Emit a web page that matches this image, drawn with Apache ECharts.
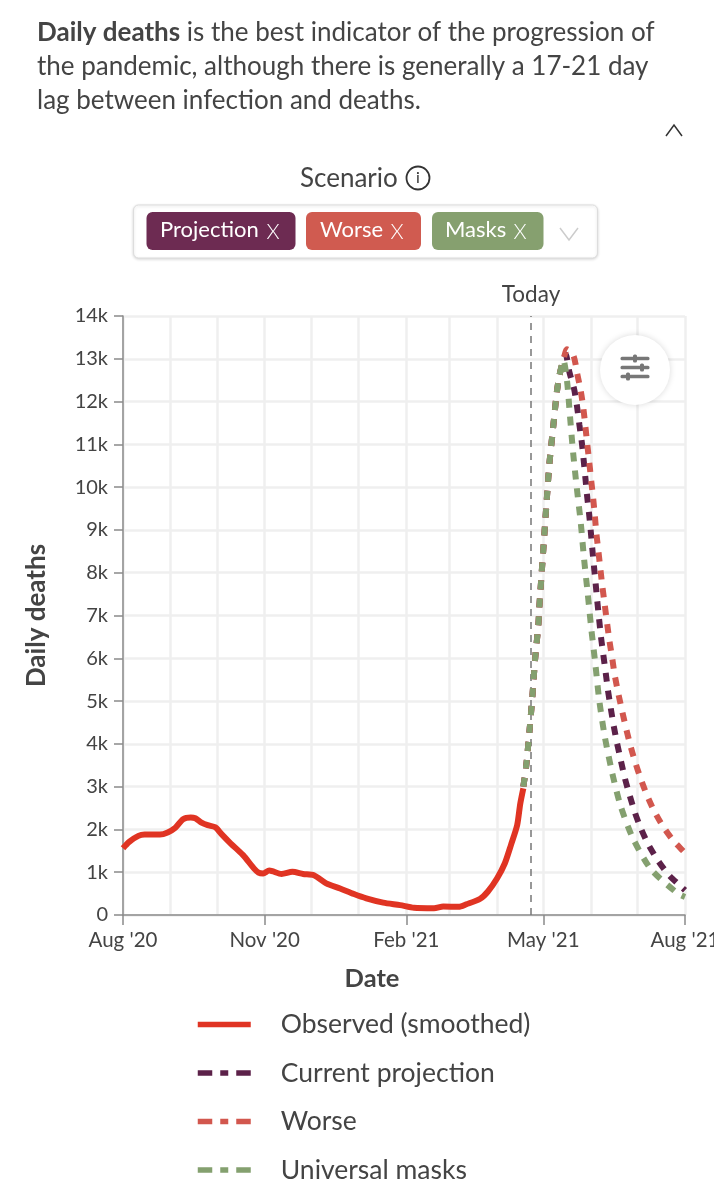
<!DOCTYPE html>
<html><head><meta charset="utf-8">
<style>html,body{margin:0;padding:0;background:#fff}#c{width:714px;height:1200px}</style>
<script src="https://cdn.jsdelivr.net/npm/echarts@6/dist/echarts.min.js"></script>
</head><body><div id="c"></div>
<script>
// x values: days since 1 Aug 2020; y values: daily deaths in thousands
const obsDays=[0,4,10,14,24,29,34,39,44,47,51,55,60,64,70,78,85,88,91,95,103,110,117,124,132,141,150,158,169,180,189,202,208,218,223,232,237,243,248,252,256,258,260];
const obsVals=[1.56,1.71,1.85,1.88,1.88,1.93,2.04,2.24,2.28,2.26,2.16,2.10,2.05,1.89,1.67,1.40,1.09,0.99,0.97,1.04,0.96,1.01,0.96,0.93,0.74,0.62,0.49,0.39,0.29,0.23,0.17,0.16,0.20,0.19,0.25,0.38,0.55,0.86,1.21,1.64,2.10,2.60,2.96];
const riseDays=[260,261.8,264,265.9,267.6,269.8,270.4,272,273.6,275.2,276.9,279.3,281.7,283.4,286];
const riseVals=[3.0,3.46,4.3,5.12,5.96,6.8,7.2,8.04,8.87,9.7,10.54,11.37,12.2,12.6,12.97];
const maskDays=[288.4,290.3,292.3,294.7,297.3,299.4,301.8,304.2,306.8,309.3,312.8,317.4,323,331.2,342.9,360,365];
const maskVals=[12.48,11.66,10.82,9.99,9.17,8.34,7.52,6.67,5.86,5.02,4.19,3.37,2.57,1.79,1.07,0.51,0.42];
const projDays=[287.5,289.9,293,294.9,296.4,298,299.2,300.3,301.4,302.7,303.8,304.8,305.9,307,308.1,310.5,312,313.5,315,316.8,318.7,320.9,323.4,326,329.1,332.5,336.6,341.6,347.5,354.6,362.6,365];
const projVals=[13.1,12.69,12.29,11.88,11.46,11.04,10.63,10.22,9.8,9.38,8.97,8.56,8.14,7.73,7.31,6.48,6.07,5.66,5.24,4.83,4.42,4.01,3.6,3.19,2.79,2.39,2.0,1.62,1.27,0.93,0.66,0.58];
const worseDays=[288.4,292.6,295,297.3,299,300.3,301.5,302.8,304,305.3,306.4,307.4,308.7,310,311.3,312.8,315.8,317.6,319.3,321.5,323.9,326.5,329.3,332.5,336.2,340.3,345,350.9,357.6,364.3,365];
const worseVals=[13.22,13.07,12.65,12.25,11.84,11.42,11.01,10.59,10.18,9.76,9.35,8.93,8.52,8.1,7.69,7.27,6.44,6.03,5.62,5.21,4.81,4.4,3.99,3.59,3.19,2.8,2.43,2.06,1.73,1.48,1.45];
const monthDays=[0,31,61,92,122,153,184,212,243,273,304,334,365];
const labelDays=[0,92,184,273,365];
const labelTexts=["Aug '20","Nov '20","Feb '21","May '21","Aug '21"];
const todayDay=265;
const seriesNames=['Observed (smoothed)','Current projection','Worse','Universal masks'];
const seriesColors=['#e03423','#5c2149','#d2574e','#84a06f'];
const chips=[['Projection','#6d2b52'],['Worse','#d05b50'],['Masks','#86a06f']];

const FONT='Lato';
const pairs=(xs,ys)=>xs.map((x,i)=>[x,ys[i]*1000]);
const rise=pairs(riseDays,riseVals);
const txt=(x,y,text,size,extra)=>({type:'text',x,y,silent:true,style:Object.assign({text,fontFamily:FONT,fontSize:size,fill:'#444',textVerticalAlign:'middle'},extra||{})});
const chipBoxes=[[146.5,149],[306,115],[432,111.5]];
const chipX=[[160,273],[320,397],[445,520]];

const graphics=[
 {type:'text',x:37,y:33,style:{text:'{b|Daily deaths} is the best indicator of the progression of',rich:{b:{fontFamily:FONT,fontSize:26,fontWeight:'bold',fill:'#444'}},fontFamily:FONT,fontSize:26,fill:'#444',textVerticalAlign:'middle'}},
 txt(37,67,'the pandemic, although there is generally a 17-21 day',26),
 txt(37,101,'lag between infection and deaths.',26),
 {type:'polyline',shape:{points:[[666,136],[674,125],[682,136]]},style:{stroke:'#333',lineWidth:1.5,fill:null}},
 txt(300,178.5,'Scenario',26),
 {type:'circle',shape:{cx:418,cy:178,r:11.5},style:{stroke:'#333',lineWidth:1.8,fill:'#fff'}},
 txt(418,178,'i',16,{textAlign:'center',fill:'#333'}),
 {type:'rect',shape:{x:133.5,y:205,width:464,height:53,r:5},style:{fill:'#fff',stroke:'#ddd',lineWidth:1,shadowBlur:3,shadowColor:'rgba(0,0,0,0.15)',shadowOffsetY:1}},
 {type:'polyline',shape:{points:[[560,228],[569,240],[578,228]]},style:{stroke:'#ccc',lineWidth:1.5,fill:null}},
];
chips.forEach((c,i)=>{
 graphics.push({type:'rect',shape:{x:chipBoxes[i][0],y:212,width:chipBoxes[i][1],height:38,r:6},style:{fill:c[1]}});
 graphics.push(txt(chipX[i][0],230,c[0],22,{fill:'#fff'}));
 graphics.push(txt(chipX[i][1],232,'X',21,{fill:'#fff',textAlign:'center',fontWeight:300}));
});
const btn=[{type:'circle',z:20,shape:{cx:635,cy:370,r:35},style:{fill:'#fff',shadowBlur:6,shadowColor:'rgba(0,0,0,0.15)'}}];
[[358.5,635],[367.5,642],[376.5,628]].forEach(([y,kx])=>{
 btn.push({type:'rect',z:21,shape:{x:620.5,y:y-1.7,width:29,height:3.4,r:1.5},style:{fill:'#777'}});
 btn.push({type:'rect',z:21,shape:{x:kx-2,y:y-4,width:4,height:8,r:1.5},style:{fill:'#777'}});
});
graphics.push(...btn);

const lineSeries=(name,color,data,z,extra)=>Object.assign({name,type:'line',xAxisIndex:0,yAxisIndex:0,data,z,smooth:0.25,symbol:'none',showSymbol:false,silent:true,animation:false,
 lineStyle:{color,width:6,type:[9,9],cap:'butt'},itemStyle:{color}},extra||{});
const legendItem=(i,dash)=>({name:seriesNames[i],lineStyle:{type:dash,width:5.5,cap:'butt',color:seriesColors[i]}});
const legDash=[14.5,8,8,8,15];

const chart=echarts.init(document.getElementById('c'),null,{renderer:'canvas'});
chart.setOption({
 animation:false,backgroundColor:'#fff',
 grid:{left:123,top:316,width:562,height:599,containLabel:false,outerBoundsMode:'none'},
 xAxis:[
  {type:'value',min:0,max:365,position:'bottom',axisLine:{show:false},axisLabel:{show:false},
   axisTick:{show:false,customValues:monthDays},
   splitLine:{show:true,lineStyle:{color:'#efefef',width:2.5}}},
  {type:'value',min:0,max:365,position:'bottom',
   axisLine:{show:true,onZero:false,lineStyle:{color:'#8a8a8a',width:1.5}},
   axisTick:{show:true,length:10,customValues:labelDays,lineStyle:{color:'#8a8a8a',width:1.5}},
   axisLabel:{show:true,customValues:labelDays,hideOverlap:false,margin:15,fontFamily:FONT,fontSize:20.5,color:'#444',
    formatter:v=>labelTexts[labelDays.indexOf(v)]},
   splitLine:{show:false},
   name:'Date',nameLocation:'middle',nameGap:51,nameTextStyle:{fontFamily:FONT,fontSize:25.5,fontWeight:'bold',color:'#444',padding:[0,64,0,0]}}
 ],
 yAxis:{type:'value',min:0,max:14000,interval:1000,
  axisLine:{show:true,lineStyle:{color:'#8a8a8a',width:1.5}},
  axisTick:{show:true,length:9,lineStyle:{color:'#8a8a8a',width:1.5}},
  axisLabel:{margin:15,fontFamily:FONT,fontSize:20,color:'#444',formatter:v=>v===0?'0':(v/1000)+'k'},
  splitLine:{show:true,lineStyle:{color:'#efefef',width:2.5}},
  name:'Daily deaths',nameLocation:'middle',nameGap:73,nameRotate:90,nameTextStyle:{fontFamily:FONT,fontSize:26,fontWeight:'bold',color:'#444'}},
 legend:{show:true,orient:'vertical',left:195,top:1011,padding:0,itemWidth:53,itemHeight:5,itemGap:21.5,selectedMode:false,
  textStyle:{fontFamily:FONT,fontSize:26.5,color:'#444',padding:[0,0,0,25]},
  data:[{name:seriesNames[0],lineStyle:{type:'solid',width:5.5,color:seriesColors[0]}},legendItem(1,legDash),legendItem(2,legDash),legendItem(3,legDash)]},
 series:[
  lineSeries(seriesNames[1],seriesColors[1],rise.concat(pairs(projDays,projVals)),3),
  lineSeries(seriesNames[2],seriesColors[2],rise.concat(pairs(worseDays,worseVals)),4),
  lineSeries(seriesNames[3],seriesColors[3],rise.concat(pairs(maskDays,maskVals)),5),
  lineSeries(seriesNames[0],seriesColors[0],pairs(obsDays,obsVals),6,{lineStyle:{color:seriesColors[0],width:6,type:'solid',cap:'butt'},
   markLine:{silent:true,symbol:'none',animation:false,lineStyle:{color:'#777',type:[7,6],width:1.5},
    label:{show:true,position:'end',distance:10,formatter:'Today',fontFamily:FONT,fontSize:22.5,color:'#444'},
    data:[{xAxis:todayDay}]}})
 ],
 graphic:{elements:graphics}
});
</script></body></html>
